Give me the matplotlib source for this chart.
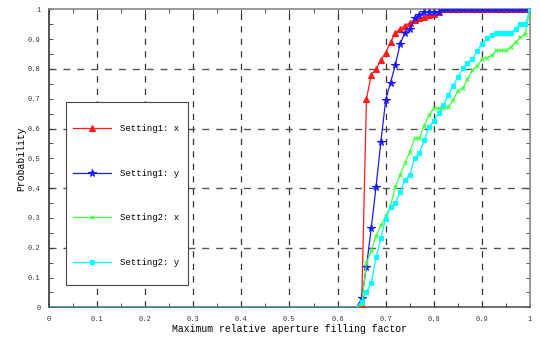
import matplotlib
matplotlib.use("Agg")
import matplotlib.pyplot as plt
from matplotlib.patches import Rectangle
import numpy as np

# sampling grid of the curves (step 0.01)
x = np.round(np.arange(0, 1.0001, 0.01), 2)
n_zero = 65  # all curves are 0 up to x = 0.64

s1_x = [0.0]*n_zero + [0.01, 0.70, 0.78, 0.80, 0.83, 0.855, 0.89, 0.92, 0.935, 0.945,
                       0.955, 0.965, 0.97, 0.975, 0.98, 0.985, 0.99] + [1.0]*19
s1_y = [0.0]*n_zero + [0.03, 0.136, 0.267, 0.405, 0.556, 0.696, 0.754, 0.813, 0.884, 0.921,
                       0.933, 0.97, 0.98, 0.99, 0.99, 0.99, 0.99] + [1.0]*19
s2_x = [0.0]*n_zero + [0.01, 0.15, 0.19, 0.24, 0.275, 0.305, 0.34, 0.405, 0.445, 0.485,
                       0.52, 0.567, 0.567, 0.61, 0.645, 0.668, 0.668, 0.668, 0.672, 0.696,
                       0.727, 0.735, 0.765, 0.796, 0.81, 0.832, 0.838, 0.845, 0.862, 0.862,
                       0.862, 0.873, 0.89, 0.906, 0.917, 1.0]
s2_y = [0.0]*n_zero + [0.019, 0.052, 0.08, 0.168, 0.231, 0.298, 0.336, 0.349, 0.388, 0.427,
                       0.444, 0.5, 0.517, 0.561, 0.606, 0.626, 0.651, 0.679, 0.712, 0.743,
                       0.772, 0.802, 0.821, 0.832, 0.861, 0.884, 0.903, 0.914, 0.92,
                       0.922, 0.922, 0.922, 0.933, 0.952, 0.952, 1.0]

labels = ["Setting1: x", "Setting1: y", "Setting2: x", "Setting2: y"]
tick_lbl = ["0", "0.1", "0.2", "0.3", "0.4", "0.5", "0.6", "0.7", "0.8", "0.9", "1"]

FONT = "Liberation Mono"

fig = plt.figure(figsize=(5.4, 3.38), dpi=100)
ax = fig.add_axes([0.0907, 0.0908, 0.8908, 0.8817])

# grid: x every 0.1, y every 0.2
for gx in np.arange(0.1, 0.95, 0.1):
    ax.axvline(gx, color="#333333", lw=0.9, ls=(0, (5, 5)), zorder=1)
for gy in np.arange(0.2, 0.85, 0.2):
    ax.axhline(gy, color="#555555", lw=1.0, ls=(0, (5, 5)), zorder=1)

series = [s1_x, s1_y, s2_x, s2_y]
colors = ["#ff1a1a", "#1a1aff", "#40ff40", "#00ffff"]
markers = ["^", "*", "x", "s"]
msizes = [4.5, 5.5, 3, 3.5]
for ys, c, m, ms, lab in zip(series, colors, markers, msizes, labels):
    ys = np.array(ys)
    idx = [i for i in range(len(ys)) if ys[i] > 0]
    ax.plot(x, ys, color=c, lw=0.9, marker=m, ms=ms, markevery=idx,
            mec=c, mfc=c, mew=0.8, label=lab, zorder=3)

ax.set_xlim(0, 1)
ax.set_ylim(0, 1)
ax.set_xticks(np.linspace(0, 1, 11))
ax.set_xticklabels(tick_lbl)
ax.set_yticks(np.linspace(0, 1, 11))
ax.set_yticklabels(tick_lbl)
ax.set_xticks(np.arange(0.05, 1, 0.1), minor=True)
ax.set_yticks(np.arange(0.05, 1, 0.1), minor=True)
ax.tick_params(which="both", direction="in", top=True, right=True,
               labelsize=5, length=3, width=0.6, colors="#333333", pad=6)
for lbl in ax.get_xticklabels() + ax.get_yticklabels():
    lbl.set_family(FONT)

for s in ax.spines.values():
    s.set_color("#888888")
    s.set_linewidth(1.2)
ax.spines["left"].set_color("#333333")
ax.spines["bottom"].set_color("#555555")

ax.set_xlabel("Maximum relative aperture filling factor", family=FONT, fontsize=7, labelpad=1)
ax.set_ylabel("Probability", family=FONT, fontsize=7, labelpad=1)

# legend box drawn separately so the padding matches
ax.add_patch(Rectangle((0.035, 0.075), 0.254, 0.614, transform=ax.transAxes,
                       fill=True, fc="white", ec="#444444", lw=0.8, zorder=5))
leg = ax.legend(loc="upper left", bbox_to_anchor=(0.05, 0.615), prop={"family": FONT, "size": 6.5},
                frameon=False, labelspacing=3.95, handlelength=4.2, borderpad=0,
                handletextpad=1.0, borderaxespad=0)
leg.set_zorder(6)

fig.savefig("out.png", dpi=100)
